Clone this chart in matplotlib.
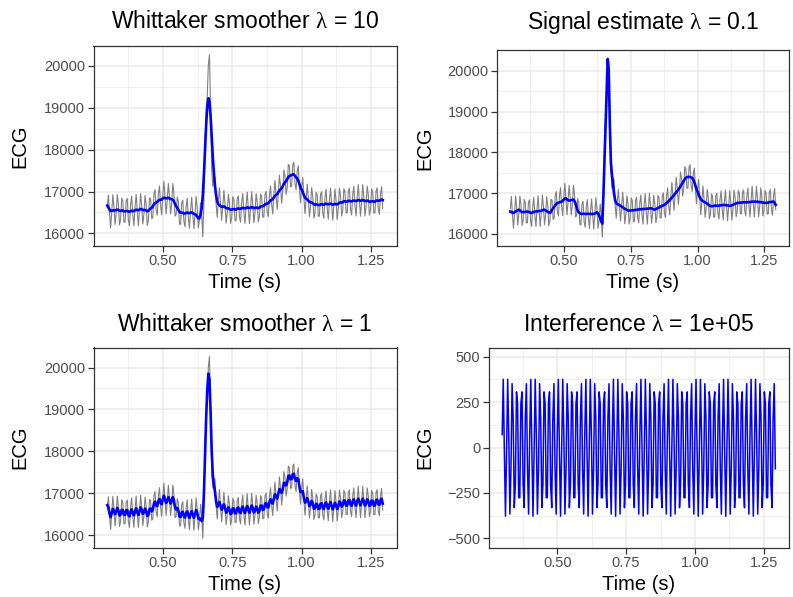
import numpy as np
import matplotlib
matplotlib.use("Agg")
import matplotlib.pyplot as plt
from matplotlib.ticker import FixedLocator

plt.rcParams['font.family'] = ['Liberation Sans', 'DejaVu Sans']
plt.rcParams['mathtext.fontset'] = 'custom'
plt.rcParams['mathtext.rm'] = 'Liberation Serif'

# --- data: ECG segment sampled at 250 Hz, starting at 0.3 s ---
fs = 250
t_start = 0.3
n_samples = 249

# signal estimate (lambda = 0.1)
signal_est = [
    16545, 16540, 16515, 16512, 16530, 16550, 16565, 16580, 16590, 16575,
    16550, 16535, 16530, 16535, 16540, 16545, 16545, 16540, 16530, 16515,
    16512, 16525, 16540, 16545, 16548, 16552, 16555, 16558, 16560, 16565,
    16575, 16590, 16590, 16575, 16555, 16540, 16525, 16512, 16540, 16585,
    16630, 16660, 16700, 16735, 16756, 16765, 16772, 16780, 16790, 16810,
    16840, 16865, 16870, 16845, 16820, 16815, 16820, 16828, 16835, 16840,
    16800, 16745, 16650, 16560, 16525, 16505, 16490, 16488, 16490, 16492,
    16490, 16488, 16490, 16492, 16490, 16488, 16486, 16488, 16490, 16495,
    16510, 16530, 16500, 16450, 16380, 16300, 16250, 16950, 17800, 18650,
    19550, 20293, 20020, 18700, 17750, 17450, 17200, 16980, 16820, 16750,
    16730, 16715, 16700, 16690, 16670, 16650, 16630, 16612, 16600, 16585,
    16572, 16570, 16570, 16572, 16575, 16578, 16580, 16585, 16590, 16595,
    16598, 16600, 16602, 16605, 16605, 16608, 16610, 16612, 16615, 16618,
    16622, 16626, 16624, 16610, 16598, 16595, 16605, 16620, 16635, 16650,
    16662, 16675, 16688, 16700, 16710, 16730, 16755, 16780, 16805, 16830,
    16860, 16890, 16920, 16951, 16985, 17015, 17050, 17085, 17120, 17165,
    17210, 17260, 17300, 17340, 17372, 17392, 17398, 17396, 17392, 17385,
    17370, 17330, 17260, 17180, 17100, 17030, 16960, 16900, 16850, 16820,
    16800, 16785, 16770, 16758, 16740, 16720, 16700, 16680, 16675, 16680,
    16685, 16690, 16692, 16690, 16688, 16692, 16698, 16702, 16706, 16708,
    16707, 16705, 16700, 16695, 16690, 16688, 16691, 16700, 16712, 16725,
    16738, 16748, 16756, 16760, 16762, 16765, 16768, 16770, 16772, 16772,
    16772, 16772, 16774, 16778, 16782, 16785, 16788, 16790, 16790, 16789,
    16788, 16786, 16783, 16780, 16776, 16772, 16768, 16762, 16758, 16756,
    16760, 16768, 16775, 16780, 16785, 16788, 16790, 16760, 16710,
]

# 60 Hz mains interference (lambda = 1e+05)
interference = [
    71, 375, -24, -378, -24, 375, 71, -366, -117, 351, 161, -331, -203, 306, 241, -276, -276, 241, 306, -203, -331, 161, 351, -117, -366,
    71, 375, -24, -378, -24, 375, 71, -366, -117, 351, 161, -331, -203, 306, 241, -276, -276, 241, 306, -203, -331, 161, 351, -117, -366,
    71, 375, -24, -378, -24, 375, 71, -366, -117, 351, 161, -331, -203, 306, 241, -276, -276, 241, 306, -203, -331, 161, 351, -117, -366,
    71, 375, -24, -378, -24, 375, 71, -366, -117, 351, 161, -331, -203, 306, 241, -276, -276, 241, 306, -203, -331, 161, 351, -117, -366,
    71, 375, -24, -378, -24, 375, 71, -366, -117, 351, 161, -331, -203, 306, 241, -276, -276, 241, 306, -203, -331, 161, 351, -117, -366,
    71, 375, -24, -378, -24, 375, 71, -366, -117, 351, 161, -331, -203, 306, 241, -276, -276, 241, 306, -203, -331, 161, 351, -117, -366,
    71, 375, -24, -378, -24, 375, 71, -366, -117, 351, 161, -331, -203, 306, 241, -276, -276, 241, 306, -203, -331, 161, 351, -117, -366,
    71, 375, -24, -378, -24, 375, 71, -366, -117, 351, 161, -331, -203, 306, 241, -276, -276, 241, 306, -203, -331, 161, 351, -117, -366,
    71, 375, -24, -378, -24, 375, 71, -366, -117, 351, 161, -331, -203, 306, 241, -276, -276, 241, 306, -203, -331, 161, 351, -117, -366,
    71, 375, -24, -378, -24, 375, 71, -366, -117, 351, 161, -331, -203, 306, 241, -276, -276, 241, 306, -203, -331, 161, 351, -117,
]

lambdas = {"smooth_hi": 10, "smooth_lo": 1, "signal": 0.1, "interf": 1e5}

x_ticks = [0.50, 0.75, 1.00, 1.25]
x_minor = [0.375, 0.625, 0.875, 1.125]
ecg_ticks = [16000, 17000, 18000, 19000, 20000]
ecg_minor = [16500, 17500, 18500, 19500]
interf_ticks = [-500, -250, 0, 250, 500]
interf_minor = [-375, -125, 125, 375]

time = t_start + np.arange(n_samples) / fs
signal_est = np.array(signal_est, dtype=float)
interference = np.array(interference, dtype=float)
raw = signal_est + interference


def whittaker(y, lam, d=2):
    n = len(y)
    D = np.diff(np.eye(n), d, axis=0)
    return np.linalg.solve(np.eye(n) + lam * D.T @ D, y)


smooth_hi = whittaker(raw, lambdas["smooth_hi"])
smooth_lo = whittaker(raw, lambdas["smooth_lo"])

# --- figure layout (pixel boxes: left, top, right, bottom) ---
W, H = 793, 597
fig = plt.figure(figsize=(W / 100, H / 100), dpi=100)


def add_panel(left, top, right, bottom):
    return fig.add_axes([left / W, 1 - bottom / H, (right - left) / W, (bottom - top) / H])


def style(ax, yt, ym):
    ax.set_xticks(x_ticks)
    ax.set_xticklabels([f"{v:.2f}" for v in x_ticks])
    ax.xaxis.set_minor_locator(FixedLocator(x_minor))
    ax.set_yticks(yt)
    ax.yaxis.set_minor_locator(FixedLocator(ym))
    ax.grid(True, which="major", color="#EBEBEB", lw=1.1)
    ax.grid(True, which="minor", color="#EBEBEB", lw=0.55)
    ax.set_axisbelow(True)
    ax.tick_params(which="major", length=4, width=0.9, color="#333333",
                   labelsize=10.5, labelcolor="#4D4D4D", pad=2)
    ax.tick_params(which="minor", length=0, width=0)
    for s in ax.spines.values():
        s.set_color("#333333")
        s.set_linewidth(0.9)


boxes = {
    "p1": (93.5, 45.5, 396.5, 246),
    "p2": (497, 50, 789, 246),
    "p3": (93.5, 347.5, 396.5, 547.5),
    "p4": (488.5, 347.5, 789, 547.5),
}

ax1 = add_panel(*boxes["p1"])
ax1.plot(time, raw, color="#808080", lw=0.8)
ax1.plot(time, smooth_hi, color="blue", lw=1.9)

ax2 = add_panel(*boxes["p2"])
ax2.plot(time, raw, color="#808080", lw=0.8)
ax2.plot(time, signal_est, color="blue", lw=1.9)

ax3 = add_panel(*boxes["p3"])
ax3.plot(time, raw, color="#808080", lw=0.8)
ax3.plot(time, smooth_lo, color="blue", lw=1.9)

ax4 = add_panel(*boxes["p4"])
ax4.plot(time, interference, color="blue", lw=1.1)
ax4.set_ylim(-550, 550)

for ax in (ax1, ax2, ax3):
    ax.margins(x=0.05, y=0.05)
    style(ax, ecg_ticks, ecg_minor)
ax4.margins(x=0.05)
style(ax4, interf_ticks, interf_minor)

lam = r"$\mathrm{\lambda}$"
titles = [
    (ax1, f"Whittaker smoother {lam} = 10", 22),
    (ax2, f"Signal estimate {lam} = 0.1", 22),
    (ax3, f"Whittaker smoother {lam} = 1", 325),
    (ax4, f"Interference {lam} = 1e+05", 325),
]
for ax, txt, ypix in titles:
    b = ax.get_position()
    fig.text(b.x0 + b.width / 2, 1 - ypix / H, txt, ha="center", va="center", fontsize=16.5)

for ax, ypix in [(ax1, 283), (ax2, 283), (ax3, 585), (ax4, 585)]:
    b = ax.get_position()
    fig.text(b.x0 + b.width / 2, 1 - ypix / H, "Time (s)", ha="center", va="center", fontsize=14.5)

for xpix, ypix in [(20, 146), (425, 148), (20, 447), (425, 447)]:
    fig.text(xpix / W, 1 - ypix / H, "ECG", ha="center", va="center", rotation=90, fontsize=14.5)

fig.savefig("out.png", dpi=100)
